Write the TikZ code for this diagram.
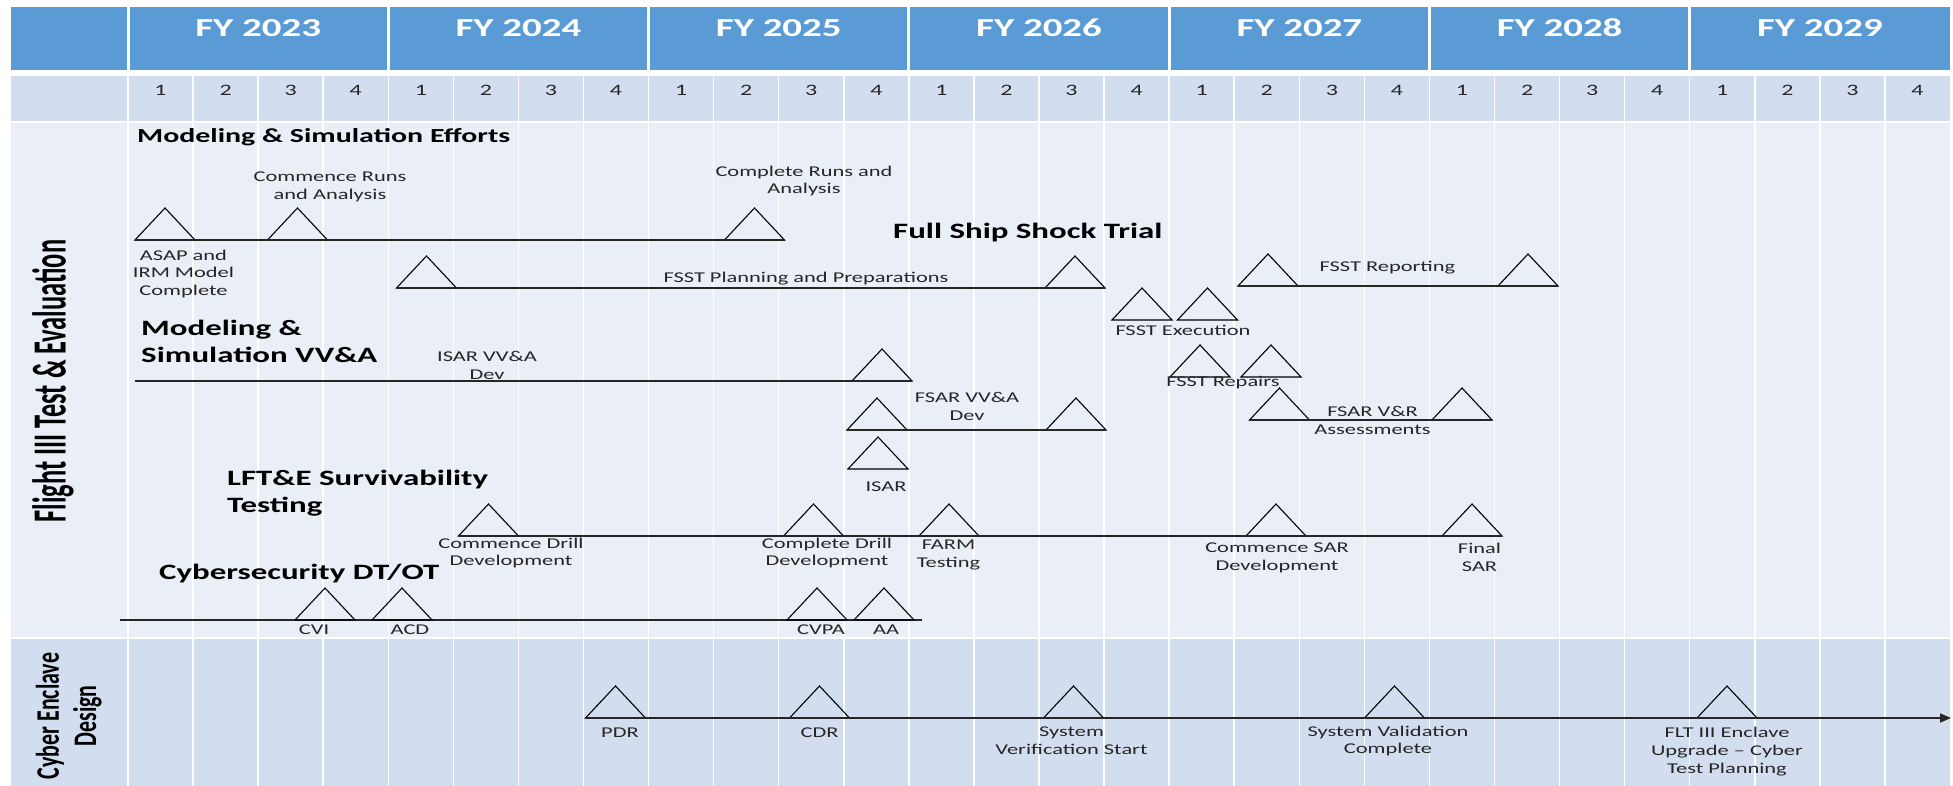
\documentclass[tikz,border=0pt]{standalone}
\usepackage{fontspec}
\setmainfont{Carlito}[FakeStretch=1.5]
\newfontfamily\sidefont{Carlito}
\usetikzlibrary{arrows.meta}

\definecolor{hdrblue}{HTML}{5B9BD5}
\definecolor{rowdark}{HTML}{D2DEEF}
\definecolor{rowlight}{HTML}{E9EEF7}
\definecolor{ink}{HTML}{262626}

\tikzset{
  tri/.style={draw=black, line width=1.1bp},
  track/.style={draw=black!85, line width=1.6bp},
  lbl/.style={font=\fontsize{15}{18}\selectfont, text=ink, align=center, inner sep=0pt},
  head/.style={font=\bfseries\fontsize{22}{27}\selectfont, anchor=west, align=left, inner sep=0pt},
}

% 里程碑三角形: #1 名称, (#2,#3) 底边中点
\newcommand{\ms}[3]{%
  \coordinate (#1-l) at ({#2-30},#3);
  \coordinate (#1-r) at ({#2+30},#3);
  \draw[tri] (#1-l) -- ++(30,-32) -- (#1-r) -- cycle;}

\begin{document}
\begin{tikzpicture}[x=1bp, y=-1bp]
  \useasboundingbox (0,0) rectangle (1953,786);
  % 表格底色
  \fill[hdrblue] (11,7) rectangle (1950,70);
  \fill[rowdark] (11,76) rectangle (1950,122);
  \fill[rowlight] (11,122) rectangle (1950,638);
  \fill[rowdark] (11,638) rectangle (1950,786);
  \foreach \k in {0,...,27} {
    \pgfmathsetmacro{\a}{128+65.07*\k}
    \draw[white, line width=1.5bp] (\a,76) -- (\a,786);}
  \foreach \k in {0,...,6} {
    \pgfmathsetmacro{\a}{128+260.29*\k}
    \draw[white, line width=3bp] (\a,7) -- (\a,70);}
  \draw[white, line width=2bp] (11,122) -- (1950,122);
  \draw[white, line width=2bp] (11,638) -- (1950,638);
  % 年份与季度
  \foreach \y [count=\i from 0] in {2023,...,2029} {
    \pgfmathsetmacro{\a}{128+260.29*(\i+0.5)}
    \node[font=\bfseries\fontsize{26}{30}\selectfont, text=white] (fy\y) at (\a,28) {FY \y};
    \foreach \q in {1,...,4} {
      \pgfmathsetmacro{\b}{128+260.29*\i+65.07*(\q-0.5)}
      \node[font=\fontsize{16}{18}\selectfont, text=ink] (q\y-\q) at (\b,90) {\q};}}
  % 左侧竖排标题
  \node[rotate=90, font=\sidefont\bfseries\fontsize{26.5}{30}\selectfont] (side1) at (53,381)
    {\scalebox{1}[1.8]{Flight III Test \& Evaluation}};
  \node[rotate=90, font=\sidefont\bfseries\fontsize{22}{25}\selectfont] (side2) at (70,716)
    {\scalebox{1}[1.5]{\begin{tabular}{@{}c@{}}Cyber Enclave\\Design\end{tabular}}};

  % Modeling & Simulation Efforts
  \node[head, font=\bfseries\fontsize{20}{24}\selectfont] (mse) at (137,137) {Modeling \& Simulation Efforts};
  \ms{asap}{165}{240}
  \ms{runs1}{297.5}{240}
  \ms{runs2}{754.5}{240}
  \draw[track] (asap-l) -- (runs2-r);
  \node[lbl] (runs1-t) at (330,187) {Commence Runs\\and Analysis};
  \node[lbl] (runs2-t) at (804,181) {Complete Runs and\\Analysis};
  \node[lbl] (asap-t) at (183.5,274) {ASAP and\\IRM Model\\Complete};

  % Full Ship Shock Trial
  \node[head] (fsst) at (893,233) {Full Ship Shock Trial};
  \ms{plan1}{426.5}{288}
  \ms{plan2}{1075}{288}
  \draw[track] (plan1-l) -- (plan2-r);
  \node[lbl] (plan-t) at (806,279) {FSST Planning and Preparations};
  \ms{rep1}{1268}{286}
  \ms{rep2}{1528}{286}
  \draw[track] (rep1-l) -- (rep2-r);
  \node[lbl] (rep-t) at (1387.5,268) {FSST Reporting};
  \ms{exe1}{1142}{320}
  \ms{exe2}{1207.5}{320}
  \node[lbl] (exe-t) at (1183,330) {FSST Execution};
  \ms{fix1}{1200}{377}
  \ms{fix2}{1271}{377}
  \node[lbl] (fix-t) at (1223,383) {FSST Repairs};

  % Modeling & Simulation VV&A
  \node[head] (msv) at (141,341.5) {Modeling \&\\Simulation VV\&A};
  \coordinate (vva0) at (135,381);
  \ms{isvv}{882}{381}
  \draw[track] (vva0) -- (isvv-r);
  \node[lbl] (isvv-t) at (487,365) {ISAR VV\&A\\Dev};
  \ms{fsvv1}{877}{430}
  \ms{fsvv2}{1076}{430}
  \draw[track] (fsvv1-l) -- (fsvv2-r);
  \node[lbl] (fsvv-t) at (967,406) {FSAR VV\&A\\Dev};
  \ms{fsvr1}{1279.5}{420}
  \ms{fsvr2}{1462}{420}
  \draw[track] (fsvr1-l) -- (fsvr2-r);
  \node[lbl] (fsvr-t) at (1372.5,420) {FSAR V\&R\\Assessments};
  \ms{isar}{878}{469}
  \node[lbl] (isar-t) at (886,487) {ISAR};

  % LFT&E Survivability Testing
  \node[head] (lft) at (227,493.5) {LFT\&E Survivability\\Testing};
  \ms{drill1}{488.5}{536}
  \ms{drill2}{813.5}{536}
  \ms{farm}{949}{536}
  \ms{sar1}{1276}{536}
  \ms{sar2}{1472}{536}
  \draw[track] (drill1-l) -- (sar2-r);
  \node[lbl] (drill1-t) at (511,553) {Commence Drill\\Development};
  \node[lbl] (drill2-t) at (827,553) {Complete Drill\\Development};
  \node[lbl] (farm-t) at (948.5,555) {FARM\\Testing};
  \node[lbl] (sar1-t) at (1277,557.7) {Commence SAR\\Development};
  \node[lbl] (sar2-t) at (1479.5,557.7) {Final\\SAR};

  % Cybersecurity DT/OT
  \node[head] (cyb) at (159,574) {Cybersecurity DT/OT};
  \coordinate (dt0) at (120,620);
  \coordinate (dt1) at (922,620);
  \draw[track] (dt0) -- (dt1);
  \ms{cvi}{325}{620}
  \ms{acd}{402}{620}
  \ms{cvpa}{817}{620}
  \ms{aa}{884}{620}
  \node[lbl] (cvi-t) at (314,630) {CVI};
  \node[lbl] (acd-t) at (410,630) {ACD};
  \node[lbl] (cvpa-t) at (821,630) {CVPA};
  \node[lbl] (aa-t) at (886,630) {AA};

  % Cyber Enclave Design
  \ms{pdr}{615.5}{718}
  \ms{cdr}{819.5}{718}
  \ms{sver}{1073.5}{718}
  \ms{sval}{1394.5}{718}
  \ms{flt}{1727}{718}
  \coordinate (ce1) at (1951,718);
  \draw[track, -{Triangle[length=11bp, width=9bp]}] (pdr-l) -- (ce1);
  \node[lbl] (pdr-t) at (620,733) {PDR};
  \node[lbl] (cdr-t) at (819.5,733) {CDR};
  \node[lbl] (sver-t) at (1071.5,741) {System\\Verification Start};
  \node[lbl] (sval-t) at (1388,741) {System Validation\\Complete};
  \node[lbl] (flt-t) at (1727,751.7) {FLT III Enclave\\Upgrade -- Cyber\\Test Planning};
\end{tikzpicture}
\end{document}
